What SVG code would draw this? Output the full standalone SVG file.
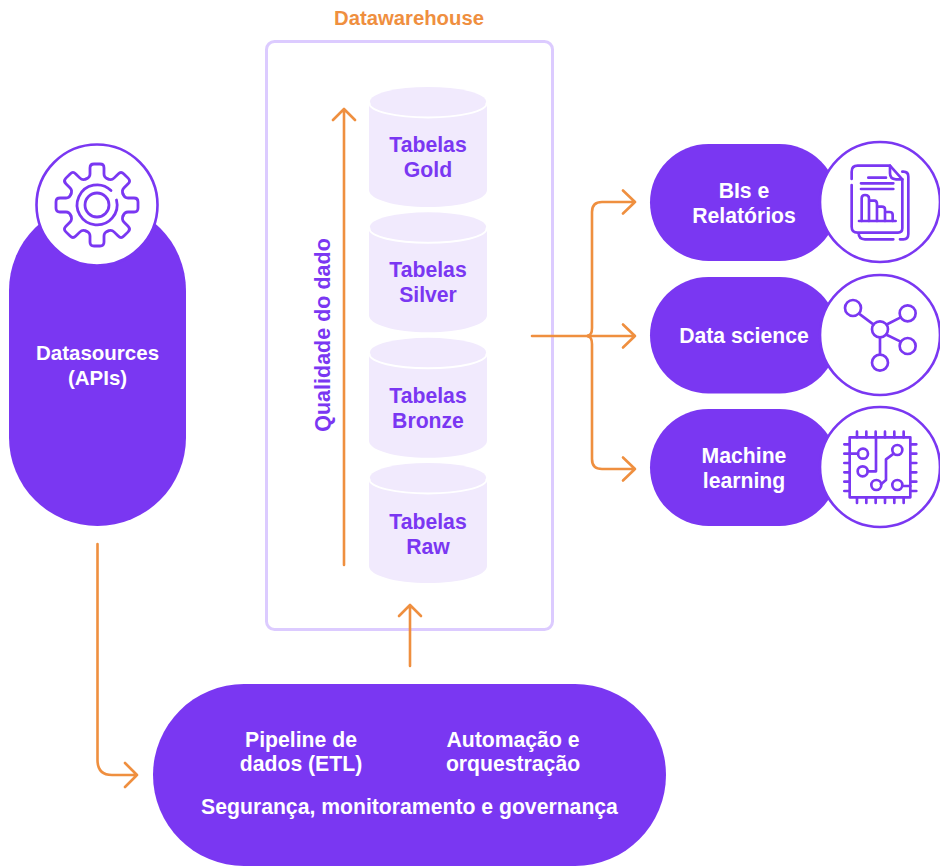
<svg xmlns="http://www.w3.org/2000/svg" width="940" height="866" viewBox="0 0 940 866">
<style>
text{font-family:"Liberation Sans",Arial,sans-serif;font-weight:700;font-size:21.200px;text-anchor:middle}
.w{fill:#fff}.p{fill:#7a37f2}.o{fill:#ef8f3f}
.pill{fill:#7a37f2}
.ring{fill:#fff;stroke:#7a37f2;stroke-width:2.600}
.ic{fill:none;stroke:#7a37f2;stroke-width:8;stroke-linecap:round;stroke-linejoin:round}
.gear{fill:none;stroke:#7a37f2;stroke-width:2.800;stroke-linecap:round;stroke-linejoin:round}
.cb{fill:#f1eafd}
.ca{fill:none;stroke:#fff;stroke-width:2}
.c{fill:none;stroke:#ef8f3f;stroke-width:2.600;stroke-linecap:round;stroke-linejoin:round}
</style>
<defs>
<g id="cyl">
<path class="cb" d="M369 104V190C369 199.500 395 207 428 207S487 199.500 487 190V104Z"/>
<path class="ca" d="M369.500 103.500A58.500 14 0 0 0 486.500 103.500"/>
<ellipse class="cb" cx="428" cy="101.500" rx="58" ry="14.500"/>
</g>
<path id="tooth" class="gear" d="M-11-26Q-7-27.500-7-31V-37Q-7-41-3-41H3Q7-41 7-37V-31Q7-27.500 11-26"/>
</defs>
<text id="t-dw" class="o" x="409" y="25" style="font-size:20.300px">Datawarehouse</text>
<rect id="dw" x="266.500" y="41.500" width="286" height="588" rx="8" fill="#fff" stroke="#dccbff" stroke-width="3"/>
<g id="gold"><use href="#cyl"/><text class="p" x="428" y="152">Tabelas</text><text class="p" x="428" y="177">Gold</text></g>
<g id="silver"><use href="#cyl" y="125.300"/><text class="p" x="428" y="277">Tabelas</text><text class="p" x="428" y="302">Silver</text></g>
<g id="bronze"><use href="#cyl" y="250.800"/><text class="p" x="428" y="403">Tabelas</text><text class="p" x="428" y="428">Bronze</text></g>
<g id="raw"><use href="#cyl" y="376"/><text class="p" x="428" y="529">Tabelas</text><text class="p" x="428" y="554">Raw</text></g>
<text id="t-q" class="p" transform="translate(329.500 335) rotate(-90)" x="0" y="0" style="font-size:21.500px">Qualidade do dado</text>
<g id="datasources">
<rect class="pill" x="9" y="202" width="177" height="324" rx="88.500"/>
<circle class="ring" cx="97" cy="205" r="60.500"/>
<g transform="translate(97 205)">
<use href="#tooth"/><use href="#tooth" transform="rotate(45)"/><use href="#tooth" transform="rotate(90)"/><use href="#tooth" transform="rotate(135)"/><use href="#tooth" transform="rotate(180)"/><use href="#tooth" transform="rotate(225)"/><use href="#tooth" transform="rotate(270)"/><use href="#tooth" transform="rotate(315)"/>
<path class="gear" d="M14-14.500A20 20 0 1 0 19.500-5"/><circle class="gear" r="12"/>
</g>
<text class="w" x="97.500" y="360" style="font-size:20.500px">Datasources</text><text class="w" x="97.500" y="385" style="font-size:20.500px">(APIs)</text>
</g>
<g id="bis">
<rect class="pill" x="650" y="144" width="188" height="117" rx="58.500"/>
<circle class="ring" cx="880" cy="202" r="60"/>
<g transform="translate(810 130) scale(.3333)" class="ic">
<path d="M125 147V125Q125 107 143 107H240V130Q240 148 258 148H277V295Q277 308 264 308H143Q125 308 125 290V165"/>
<path d="M240 107L277 148M277 125H280Q295 125 295 140V312Q295 328 280 328H270M250 328H165Q146 328 146 310"/>
<path d="M175 143H228M153 160H250M153 177H250M147 273H257"/>
<path d="M155 273V205Q155 195 165 195Q177 195 177 205V273M177 212H193Q201 212 201 222V273M201 230H215Q225 230 225 238V273M225 246H238Q248 246 248 254V273"/>
</g>
<text class="w" x="744" y="198">BIs e</text><text class="w" x="744" y="223">Relatórios</text>
</g>
<g id="ds">
<rect class="pill" x="650" y="277" width="188" height="116.500" rx="58.250"/>
<circle class="ring" cx="880" cy="335" r="60"/>
<g transform="translate(810 265) scale(.3333)" class="ic">
<circle cx="129" cy="129" r="24"/><circle cx="293" cy="145" r="24"/><circle cx="293" cy="243" r="24"/><circle cx="210" cy="293" r="24"/><circle cx="210" cy="193" r="24"/>
<path d="M150 148L190 178M233 177L272 157M231 210L272 230M210 217V269"/>
</g>
<text class="w" x="744" y="343">Data science</text>
</g>
<g id="ml">
<rect class="pill" x="650" y="409" width="188" height="117" rx="58.500"/>
<circle class="ring" cx="880" cy="467" r="60"/>
<g transform="translate(810 400) scale(.3333)" class="ic">
<rect x="119" y="112" width="182" height="180"/>
<path d="M141 95V112M169 95V112M197 95V112M225 95V112M253 95V112M281 95V112M141 292V309M169 292V309M197 292V309M225 292V309M253 292V309M281 292V309M103 133H119M103 161H119M103 189H119M103 217H119M103 245H119M103 273H119M301 133H319M301 161H319M301 189H319M301 217H319M301 245H319M301 273H319"/>
<circle cx="159" cy="161" r="15"/><circle cx="158" cy="214" r="15"/><circle cx="262" cy="150" r="15"/><circle cx="199" cy="255" r="15"/><circle cx="262" cy="255" r="15"/>
<path d="M119 161H144M173 214H198V112M251 161L228 178V240L213 253M277 258H301"/>
</g>
<text class="w" x="744" y="463">Machine</text><text class="w" x="744" y="488">learning</text>
</g>
<g id="pipeline">
<rect class="pill" x="153" y="684" width="513" height="182" rx="91"/>
<text class="w" x="301" y="747">Pipeline de</text><text class="w" x="301" y="771">dados (ETL)</text>
<text class="w" x="513" y="747">Automação e</text><text class="w" x="513" y="771">orquestração</text>
<text class="w" x="409.500" y="814">Segurança, monitoramento e governança</text>
</g>
<g id="connectors">
<path class="c" d="M344 565V109M333 120L344 109L355 120"/>
<path class="c" d="M410 666V605M399 616L410 605L421 616"/>
<path class="c" d="M97.500 544V760Q97.500 775 112 775H137M125 763L137 775L125 787"/>
<path class="c" d="M532 336H635M623 324.500L635 336L623 347.500"/>
<path class="c" d="M588 335.500Q592 335 592 328V212Q592 202 602 202H635M623 190.500L635 202L623 213.500"/>
<path class="c" d="M588 336.500Q592 337 592 344V459Q592 469 602 469H635M623 457.500L635 469L623 480.500"/>
</g>
</svg>
